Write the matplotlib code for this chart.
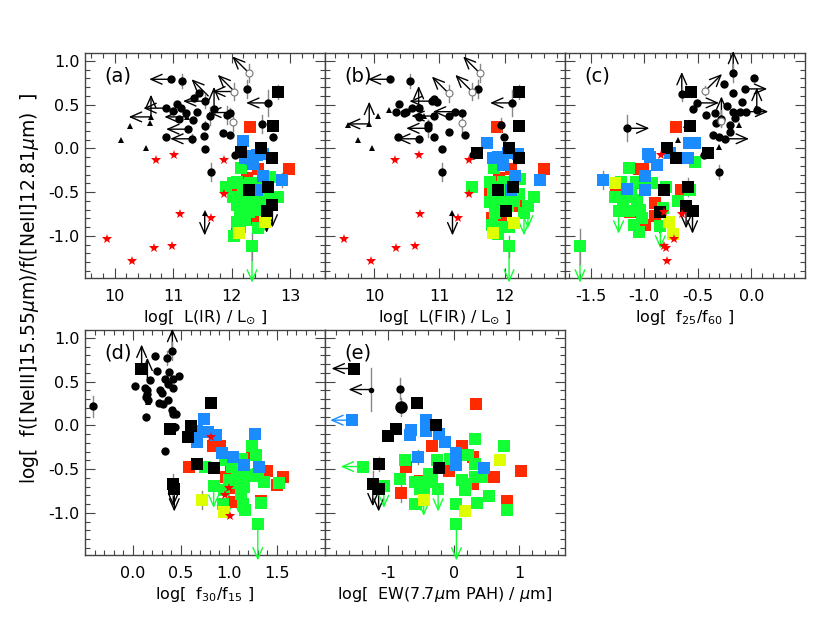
import matplotlib
matplotlib.use("Agg")
import matplotlib.pyplot as plt
from matplotlib.ticker import MultipleLocator, FixedLocator, FormatStrFormatter

# ---------------- data ----------------
# each point: (x, y, yerr)
# Panel (a): log L(IR)
a_circles = [(10.97,0.79,0),(11.15,0.77,0.08),(11.07,0.51,0),(11.13,0.46,0),(11.00,0.43,0),(11.10,0.34,0),
             (10.87,0.13,0),(11.33,0.11,0.05),(11.26,0.22,0),(11.34,0.32,0),(11.40,0.42,0),(11.36,0.58,0),
             (11.45,0.63,0),(11.55,0.26,0.05),(11.53,0.14,0),(11.55,-0.01,0),(11.64,-0.27,0.1),(11.55,0.54,0.08),
             (11.63,0.37,0.1),(11.70,0.45,0),(11.86,0.18,0),(11.97,0.15,0),(11.98,0.41,0.05),(12.06,-0.07,0),
             (12.27,0.68,0.1),(12.63,0.52,0.15),(12.52,0.28,0.1),(12.71,0.13,0),(10.87,0.46,0),(11.92,0.38,0.1),
             (11.22,0.40,0)]
a_triangles = [(10.11,0.10,0),(10.26,0.26,0),(10.53,0.01,0),(10.60,0.29,0),(10.62,0.36,0),(11.23,0.36,0),(11.54,-0.74,0)]
a_open = [(12.30,0.86,0.1),(12.05,0.65,0.1),(12.03,0.30,0.1)]
a_stars = [(10.70,-0.13),(11.01,-0.07),(11.87,-0.13),(11.87,-0.52),(11.11,-0.75),(11.65,-0.79),
           (9.87,-1.03),(10.30,-1.29),(10.67,-1.14),(10.98,-1.12)]
a_sq_red = [(12.31,0.25,0),(12.46,-0.24,0),(12.99,-0.24,0),(12.26,-0.34,0),(12.11,-0.51,0),(12.37,-0.67,0),
            (12.09,-0.86,0),(12.33,-0.60,0),(12.44,-0.80,0),(12.55,-0.50,0),(12.20,-0.70,0)]
a_sq_green = [(12.16,-0.22,0),(11.91,-0.44,0),(12.02,-0.40,0),(12.10,-0.38,0),(12.22,-0.42,0),(12.31,-0.40,0),
              (12.50,-0.40,0),(12.66,-0.33,0),(12.63,-0.51,0),(12.80,-0.56,0),(12.09,-0.65,0),(12.17,-0.59,0),
              (12.26,-0.63,0),(12.40,-0.63,0),(12.49,-0.55,0),(12.14,-0.74,0),(12.09,-0.84,0),(12.23,-0.82,0),
              (12.11,-0.95,0),(12.30,-0.73,0),(12.46,-0.91,0),(12.51,-0.70,0),(12.58,-0.58,0),(12.35,-1.12,0.15),
              (12.02,-0.55,0),(12.20,-0.50,0),(12.40,-0.46,0),(12.05,-1.00,0),(12.15,-0.90,0),(12.36,-0.55,0)]
a_sq_yellow = [(12.13,-0.97,0),(12.58,-0.84,0)]
a_sq_blue = [(12.19,0.08,0),(12.23,-0.11,0),(12.30,-0.09,0),(12.34,-0.12,0),(12.36,-0.18,0),(12.43,-0.08,0),
             (12.54,-0.06,0),(12.53,-0.32,0),(12.43,-0.47,0),(12.86,-0.36,0.08)]
a_sq_black = [(12.80,0.64,0.08),(12.71,0.26,0),(12.17,-0.04,0),(12.50,0.01,0),(12.69,-0.11,0),(12.29,-0.48,0),
              (12.62,-0.44,0),(12.70,-0.65,0),(12.60,-0.71,0)]
a_limits = [(10.97,0.79,'L','blk'),(10.62,0.36,'L','blk'),(10.62,0.36,'U','blk'),(10.87,0.46,'L','blk'),
            (11.23,0.36,'L','blk'),(11.26,0.22,'L','blk'),(11.33,0.11,'L','blk'),(11.55,0.54,'L','blk'),
            (11.60,0.60,'UL','blk'),(11.70,0.45,'U','blk'),(12.05,0.65,'UL','blk'),(12.30,0.86,'UL','blk'),
            (11.98,0.41,'L','blk'),(12.63,0.52,'L','blk'),(11.54,-0.74,'D','blk'),(12.60,-0.71,'D','blk'),
            (12.70,-0.65,'D','blk'),(12.05,0.65,'L','blk'),
            (12.35,-1.12,'D2','grn'),(12.37,-0.67,'D','red'),(12.55,-0.70,'D','grn')]

# Panel (b): log L(FIR)
b_circles = [(10.24,0.79,0),(10.55,0.77,0.08),(10.38,0.51,0),(10.33,0.42,0),(10.49,0.42,0),(10.57,0.46,0),
             (10.68,0.46,0),(10.68,0.36,0),(10.36,0.13,0),(10.69,0.11,0),(10.83,0.27,0.05),(10.83,0.23,0.1),
             (10.92,0.13,0),(10.92,0.56,0),(10.96,0.53,0),(10.91,0.37,0),(11.14,0.37,0),(11.24,0.42,0),
             (11.14,0.19,0),(11.39,0.15,0),(11.04,-0.01,0),(11.04,-0.27,0.1),(11.60,0.68,0.1),(11.34,0.41,0),
             (11.94,0.27,0.08),(11.99,0.13,0),(12.12,0.52,0.15),(11.51,-0.07,0),(10.45,0.40,0),(10.88,0.54,0)]
b_triangles = [(9.60,0.27,0),(9.74,0.10,0),(9.97,0.01,0),(9.92,0.28,0),(10.06,0.37,0),(10.23,0.44,0),
               (10.76,0.37,0),(11.20,-0.74,0)]
b_open = [(11.62,0.86,0.1),(11.14,0.63,0.1),(11.50,0.65,0.1),(11.34,0.29,0.1)]
b_stars = [(10.31,-0.13),(10.68,-0.07),(11.46,-0.13),(11.46,-0.52),(10.70,-0.75),(11.28,-0.79),
           (9.53,-1.03),(9.95,-1.29),(10.33,-1.14),(10.62,-1.12)]
b_sq_red = [(11.89,0.25,0),(12.10,-0.24,0),(12.60,-0.24,0),(11.92,-0.34,0),(11.78,-0.52,0),(11.80,-0.80,0),
            (12.20,-0.66,0),(12.00,-0.60,0),(11.95,-0.85,0),(12.08,-0.55,0)]
b_sq_green = [(11.84,-0.22,0),(11.50,-0.44,0),(11.77,-0.38,0),(11.85,-0.44,0),(11.97,-0.38,0),(12.10,-0.42,0),
              (12.24,-0.35,0),(12.23,-0.52,0),(12.45,-0.56,0),(11.78,-0.61,0),(11.88,-0.65,0),(11.96,-0.60,0),
              (12.05,-0.66,0),(12.14,-0.60,0),(12.36,-0.66,0),(12.30,-0.74,0),(11.85,-0.74,0),(11.80,-0.88,0),
              (11.95,-0.90,0),(12.07,-0.90,0),(11.90,-0.98,0),(12.07,-1.12,0.12),(12.02,-0.50,0),(11.82,-0.50,0),
              (12.18,-0.52,0)]
b_sq_yellow = [(11.82,-0.97,0),(12.15,-0.85,0)]
b_sq_blue = [(11.73,0.06,0),(11.83,-0.11,0),(11.90,-0.10,0),(11.97,-0.19,0),(12.05,-0.05,0),(12.20,-0.06,0),
             (12.16,-0.32,0),(12.54,-0.36,0),(12.10,-0.48,0)]
b_sq_black = [(12.22,0.64,0.08),(12.23,0.26,0),(11.57,-0.05,0),(12.07,0.01,0),(12.22,-0.11,0),(12.13,-0.44,0),
              (11.90,-0.48,0),(12.02,-0.71,0)]
b_limits = [(10.24,0.79,'L','blk'),(9.92,0.28,'L','blk'),(9.92,0.28,'U','blk'),(10.88,0.54,'L','blk'),
            (10.68,0.46,'U','blk'),(11.14,0.63,'UL','blk'),(11.50,0.65,'UL','blk'),(11.62,0.86,'UL','blk'),
            (10.91,0.37,'L','blk'),(10.83,0.23,'L','blk'),(10.69,0.11,'L','blk'),(11.24,0.42,'L','blk'),
            (12.12,0.52,'L','blk'),(11.20,-0.74,'D','blk'),(12.02,-0.71,'D','blk'),
            (12.07,-1.12,'D2','grn'),(12.30,-0.74,'D','grn'),(12.36,-0.66,'D','grn')]

# Panel (c): log f25/f60
c_circles = [(-0.17,0.86,0.1),(0.02,0.81,0),(-0.65,0.62,0.08),(-0.51,0.52,0),(-0.55,0.45,0),(-0.26,0.74,0),
             (-0.17,0.63,0),(-0.09,0.53,0),(-1.16,0.23,0.15),(-0.42,0.38,0),(-0.34,0.40,0),(-0.33,0.29,0),
             (-0.20,0.27,0),(-0.20,0.19,0),(-0.36,0.15,0),(-0.30,0.13,0),(-0.25,0.11,0),(-0.42,-0.04,0),
             (-0.44,-0.07,0),(-0.30,-0.27,0.08),(-0.17,0.42,0),(-0.11,0.42,0),(-0.05,0.42,0),(0.05,0.44,0),
             (-0.28,0.34,0.1),(-0.06,0.68,0),(-0.23,0.48,0),(-0.15,0.35,0)]
c_triangles = [(-0.61,0.27,0),(-0.69,0.10,0),(-0.30,0.02,0),(-0.12,0.27,0)]
c_open = [(-0.43,0.66,0.05),(-0.28,0.31,0.05)]
c_stars = [(-0.84,-0.07),(-0.65,-0.75),(-0.72,-1.03),(-0.82,-1.12),(-0.80,-1.14),(-0.79,-1.29),(-0.82,-0.73)]
c_sq_red = [(-0.70,0.25,0),(-1.05,-0.24,0),(-1.01,-0.24,0),(-0.66,-0.48,0),(-0.90,-0.62,0),(-0.90,-0.77,0),
            (-0.99,-0.87,0),(-1.26,-0.51,0),(-1.13,-0.73,0),(-1.02,-0.40,0),(-1.20,-0.60,0)]
c_sq_green = [(-1.14,-0.22,0),(-0.53,-0.15,0),(-1.22,-0.38,0),(-1.08,-0.38,0),(-0.93,-0.40,0),(-0.80,-0.44,0),
              (-0.57,-0.48,0),(-1.27,-0.55,0),(-1.16,-0.55,0),(-1.07,-0.59,0),(-1.20,-0.65,0),(-1.24,-0.72,0),
              (-1.14,-0.72,0),(-1.04,-0.70,0),(-1.10,-0.87,0),(-1.05,-0.95,0),(-0.85,-0.89,0),(-0.83,-0.68,0),
              (-0.69,-0.60,0),(-1.60,-1.12,0.2),(-1.02,-0.80,0),(-1.12,-0.48,0),(-1.00,-0.40,0)]
c_sq_yellow = [(-1.27,-0.39,0),(-0.77,-0.84,0),(-0.73,-0.98,0)]
c_sq_blue = [(-1.39,-0.36,0.1),(-1.16,-0.46,0),(-0.97,-0.06,0),(-0.95,-0.10,0),(-0.88,-0.19,0),(-0.76,-0.05,0),
             (-0.59,-0.11,0),(-0.58,0.06,0),(-0.53,0.06,0),(-0.99,-0.32,0),(-0.99,-0.48,0)]
c_sq_black = [(-0.56,0.64,0),(-0.57,0.26,0),(-0.79,0.01,0),(-0.70,-0.11,0),(-0.41,-0.05,0),(-0.82,-0.48,0),
              (-0.59,-0.44,0.1),(-0.61,-0.66,0),(-0.55,-0.72,0),(-0.85,-0.73,0)]
c_limits = [(-0.65,0.62,'U','blk'),(-0.17,0.86,'U','blk'),(-1.16,0.23,'R','blk'),(-0.43,0.66,'UR','blk'),
            (-0.51,0.52,'R','blk'),(-0.06,0.68,'R','blk'),(0.05,0.44,'U','blk'),(-0.05,0.42,'R','blk'),
            (-0.28,0.34,'U','blk'),(-0.23,0.11,'R','blk'),(-0.61,-0.66,'D','blk'),(-0.55,-0.72,'D','blk'),
            (-0.85,-0.73,'D','blk'),
            (-1.60,-1.12,'D2','grn'),(-1.24,-0.72,'D','grn'),(-0.85,-0.89,'D','grn')]

# Panel (d): log f30/f15
d_circles = [(-0.42,0.22,0.12),(0.02,0.45,0),(0.14,0.33,0),(0.13,0.43,0),(0.15,0.40,0),(0.18,0.52,0),
             (0.23,0.79,0),(0.25,0.62,0),(0.27,0.26,0),(0.28,0.41,0),(0.30,0.37,0),(0.31,0.24,0),(0.33,0.53,0),
             (0.35,0.77,0.08),(0.36,0.47,0),(0.36,0.29,0),(0.38,0.61,0),(0.41,0.85,0.1),(0.14,0.10,0),
             (0.16,0.29,0),(0.42,0.53,0),(0.48,0.57,0),(0.42,0.43,0),(0.41,0.18,0),(0.42,0.13,0),
             (0.44,-0.02,0),(0.33,-0.29,0),(0.15,0.36,0),(0.45,0.13,0)]
d_triangles = [(0.16,0.27,0)]
d_stars = [(1.01,-1.03),(0.81,-0.13),(0.96,-0.80),(1.00,-0.72)]
d_sq_red = [(0.58,-0.48,0),(0.83,-0.24,0),(0.91,-0.24,0),(1.24,-0.34,0),(1.40,-0.52,0),(1.50,-0.68,0),
            (1.56,-0.59,0),(0.97,-0.59,0),(1.05,-0.71,0),(1.33,-0.86,0),(1.05,-0.88,0),(1.02,-0.45,0)]
d_sq_green = [(0.75,-0.47,0),(0.84,-0.69,0),(0.95,-0.74,0),(0.96,-0.40,0),(1.03,-0.48,0),(1.14,-0.38,0),
              (1.24,-0.24,0),(1.28,-0.34,0),(1.20,-0.57,0),(1.12,-0.62,0),(1.16,-0.70,0),(1.12,-0.78,0),
              (0.94,-0.90,0),(1.15,-0.90,0),(1.17,-0.97,0),(1.36,-0.65,0),(1.52,-0.66,0),(1.33,-0.89,0),
              (1.30,-1.13,0),(1.00,-0.62,0),(1.08,-0.55,0),(1.24,-0.58,0),(1.12,-0.50,0),(1.06,-0.66,0),
              (1.30,-0.55,0)]
d_sq_yellow = [(0.72,-0.85,0.1),(0.95,-0.99,0)]
d_sq_blue = [(0.74,0.07,0),(0.67,-0.06,0),(0.67,-0.19,0),(0.78,-0.07,0),(0.86,-0.11,0),(0.93,-0.32,0),
             (1.04,-0.36,0),(1.16,-0.45,0),(1.27,-0.10,0),(1.31,-0.48,0)]
d_sq_black = [(0.08,0.65,0),(0.39,-0.04,0),(0.81,0.26,0),(0.60,-0.01,0),(0.57,-0.13,0),(0.67,-0.44,0.05),
              (0.84,-0.49,0),(0.42,-0.67,0.12),(0.43,-0.73,0)]
d_limits = [(0.41,0.85,'U','blk'),(0.09,0.67,'U','blk'),(0.15,0.52,'U','blk'),(0.42,-0.67,'D','blk'),
            (0.43,-0.73,'D','blk'),(0.84,-0.69,'D','grn'),(1.30,-1.13,'D2','grn'),(1.00,-0.75,'D','grn'),
            (1.10,-0.75,'D','grn')]

# Panel (e): log EW(7.7um PAH)
e_circles = [(-0.83,0.42,0.12)]
e_circles_small = [(-1.27,0.41,0.25)]
e_circles_big = [(-0.81,0.21,0.1)]
e_sq_red = [(0.34,0.25,0),(-0.34,-0.24,0),(0.13,-0.24,0),(-0.73,-0.48,0),(-0.08,-0.52,0),(0.29,-0.36,0),
            (-0.52,-0.63,0),(-0.81,-0.77,0.1),(0.29,-0.67,0),(0.56,-0.59,0),(0.62,-0.59,0),(1.02,-0.52,0),
            (0.81,-0.86,0)]
e_sq_green = [(0.32,-0.15,0),(0.76,-0.24,0),(-1.39,-0.47,0),(-0.74,-0.40,0),(-0.82,-0.61,0),(-1.07,-0.69,0),
              (-0.59,-0.65,0),(-0.51,-0.73,0),(-0.41,-0.65,0),(-0.38,-0.55,0),(-0.25,-0.40,0),(-0.24,-0.73,0),
              (-0.06,-0.38,0),(0.22,-0.34,0),(0.32,-0.44,0),(0.13,-0.62,0),(0.18,-0.67,0),(0.17,-0.74,0),
              (0.33,-0.59,0),(0.43,-0.59,0),(0.54,-0.81,0),(0.36,-0.89,0),(0.82,-0.97,0),(0.04,-0.90,0),
              (0.04,-1.13,0),(-0.59,-0.90,0),(-0.46,-0.78,0),(-0.33,-0.62,0)]
e_sq_yellow = [(0.71,-0.39,0),(0.17,-0.98,0.05),(-0.46,-0.85,0)]
e_sq_blue = [(-1.55,0.06,0),(-0.65,-0.05,0),(-0.67,-0.11,0),(-0.42,0.06,0),(-0.42,-0.06,0),(-0.23,-0.10,0),
             (-0.13,-0.19,0),(-0.55,-0.36,0.08),(0.03,-0.32,0),(0.03,-0.45,0),(0.46,-0.49,0)]
e_sq_black = [(-1.53,0.65,0),(-0.56,0.26,0),(-0.28,0.01,0),(-0.89,-0.04,0),(-1.00,-0.12,0),(-0.23,-0.49,0),
              (-1.14,-0.44,0.08),(-1.24,-0.67,0.15),(-1.15,-0.73,0)]
e_limits = [(-1.53,0.65,'L','blk'),(-1.27,0.41,'L','blk'),(-1.55,0.06,'L','blu'),(-1.39,-0.47,'L','grn'),
            (-1.24,-0.67,'D','blk'),(-1.15,-0.73,'D','blk'),(-1.07,-0.69,'D','grn'),(-0.51,-0.73,'D','grn'),
            (-0.24,-0.73,'D','grn'),(0.04,-1.13,'D2','grn'),(-0.46,-0.78,'D','grn')]

xlabels = [r'log[  L(IR) / L$_{\odot}$ ]', r'log[  L(FIR) / L$_{\odot}$ ]', r'log[  f$_{25}$/f$_{60}$ ]',
           r'log[  f$_{30}$/f$_{15}$ ]', r'log[  EW(7.7$\mu$m PAH) / $\mu$m]']
xtick_vals = [[10, 11, 12, 13], [10, 11, 12], [-1.5, -1.0, -0.5, 0.0], [0.0, 0.5, 1.0, 1.5], [-1, 0, 1]]
ytick_vals = [-1.0, -0.5, 0.0, 0.5, 1.0]
panel_tags = ['(a)', '(b)', '(c)', '(d)', '(e)']
ylabel = r'log[  f([NeIII]15.55$\mu$m)/f([NeII]12.81$\mu$m)  ]'

# ---------------- style ----------------
COL = {'red': '#ff2a00', 'grn': '#11ff33', 'yel': '#ddff00', 'blu': '#1a8cff', 'blk': 'black'}
ERRC = '#888888'
ARROW = {'L': (-16, 0), 'R': (16, 0), 'U': (0, 16), 'D': (0, -16), 'D2': (0, -26),
         'UL': (-12, 12), 'UR': (12, 12)}

plt.rcParams['font.family'] = ['DejaVu Sans']
fig = plt.figure(figsize=(8.3, 6.35), dpi=100)

W = 240 / 830.0
H = 225 / 635.0
L0 = 85 / 830.0
pos = [(L0, 1 - 278 / 635.0), (L0 + W, 1 - 278 / 635.0), (L0 + 2 * W, 1 - 278 / 635.0),
       (L0, 1 - 555 / 635.0), (L0 + W, 1 - 555 / 635.0)]
xlims = [(9.49, 13.6), (9.24, 12.93), (-1.74, 0.5), (-0.5, 2.0), (-1.97, 1.7)]
xmaj = [1, 1, 0.5, 0.5, 1]
xmin = [0.2, 0.2, 0.1, 0.1, 0.2]
xfmt = ['%d', '%d', '%.1f', '%.1f', '%d']


def pts(ax, data, marker, color, ms, z, ecolor=ERRC, mfc=None, mew=0):
    for (x, y, e) in data:
        if e:
            ax.plot([x, x], [y - e, y + e], color=ecolor, lw=1, zorder=z - 0.5)
    if data:
        ax.plot([d[0] for d in data], [d[1] for d in data], linestyle='none', marker=marker, ms=ms,
                color=color, mfc=mfc if mfc else color, mew=mew, zorder=z)


def limits(ax, data):
    for (x, y, d, c) in data:
        dx, dy = ARROW[d]
        ax.annotate('', xy=(x, y), xytext=(dx, dy), textcoords='offset points',
                    arrowprops=dict(arrowstyle='<-,head_length=0.8,head_width=0.35', color=COL[c], lw=1.0,
                                    shrinkA=0, shrinkB=0), zorder=4)


panels = [
    dict(circ=a_circles, tri=a_triangles, open=a_open, stars=a_stars, red=a_sq_red, grn=a_sq_green,
         yel=a_sq_yellow, blu=a_sq_blue, blk=a_sq_black, lim=a_limits),
    dict(circ=b_circles, tri=b_triangles, open=b_open, stars=b_stars, red=b_sq_red, grn=b_sq_green,
         yel=b_sq_yellow, blu=b_sq_blue, blk=b_sq_black, lim=b_limits),
    dict(circ=c_circles, tri=c_triangles, open=c_open, stars=c_stars, red=c_sq_red, grn=c_sq_green,
         yel=c_sq_yellow, blu=c_sq_blue, blk=c_sq_black, lim=c_limits),
    dict(circ=d_circles, tri=d_triangles, open=[], stars=d_stars, red=d_sq_red, grn=d_sq_green,
         yel=d_sq_yellow, blu=d_sq_blue, blk=d_sq_black, lim=d_limits),
    dict(circ=e_circles, tri=[], open=[], stars=[], red=e_sq_red, grn=e_sq_green,
         yel=e_sq_yellow, blu=e_sq_blue, blk=e_sq_black, lim=e_limits),
]

for i, p in enumerate(panels):
    l, b = pos[i]
    ax = fig.add_axes([l, b, W, H])
    limits(ax, p['lim'])
    pts(ax, p['red'], 's', COL['red'], 8, 5)
    pts(ax, p['grn'], 's', COL['grn'], 8, 5.2)
    pts(ax, p['yel'], 's', COL['yel'], 8, 5.3)
    pts(ax, p['blu'], 's', COL['blu'], 8, 5.4)
    pts(ax, p['blk'], 's', 'black', 8.5, 5.5)
    pts(ax, p['circ'], 'o', 'black', 6, 6)
    pts(ax, p['tri'], '^', 'black', 5, 6)
    pts(ax, p['open'], 'o', '#777777', 5, 6, mfc='white', mew=0.8)
    if p['stars']:
        ax.plot([s[0] for s in p['stars']], [s[1] for s in p['stars']], linestyle='none', marker='*',
                ms=7, color='red', mew=0, zorder=6)
    if i == 4:
        pts(ax, e_circles_small, 'o', 'black', 4, 6)
        pts(ax, e_circles_big, 'o', 'black', 9, 6)

    ax.set_xlim(*xlims[i])
    ax.set_ylim(-1.48, 1.09)
    ax.xaxis.set_major_locator(FixedLocator(xtick_vals[i]))
    ax.xaxis.set_minor_locator(MultipleLocator(xmin[i]))
    ax.yaxis.set_major_locator(FixedLocator(ytick_vals))
    ax.yaxis.set_minor_locator(MultipleLocator(0.1))
    ax.tick_params(which='both', direction='in', top=True, right=True, color='#444444', labelsize=11.5)
    ax.tick_params(which='major', length=7, width=0.8)
    ax.tick_params(which='minor', length=3.5, width=0.8)
    ax.tick_params(axis='x', pad=8)
    ax.tick_params(axis='y', pad=4)
    ax.xaxis.set_major_formatter(FormatStrFormatter(xfmt[i]))
    if i in (0, 3):
        ax.yaxis.set_major_formatter(FormatStrFormatter('%.1f'))
    else:
        ax.tick_params(labelleft=False)
    for s in ax.spines.values():
        s.set_color('#444444')
        s.set_linewidth(1.0)
    ax.set_xlabel(xlabels[i], fontsize=11.5, labelpad=3)
    ax.text(0.08, 0.94, panel_tags[i], transform=ax.transAxes, fontsize=14, va='top', ha='left')

fig.text(0.036, 0.546, ylabel, rotation=90, ha='center', va='center', fontsize=13.5)
fig.savefig('out.png', dpi=100)
